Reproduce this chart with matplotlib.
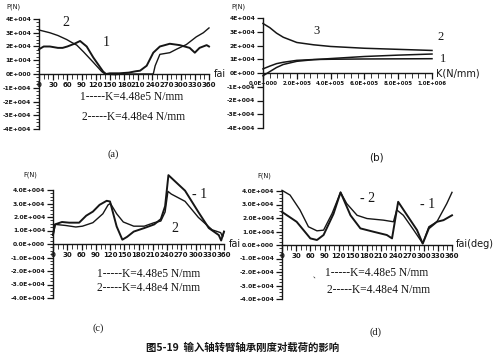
import math
import matplotlib
matplotlib.use('Agg')
import matplotlib.pyplot as plt
from matplotlib.ticker import MultipleLocator, FuncFormatter

# ---- data (forces in units of 1E+004 N) ----
# (a) P vs fai
a_fai1 = [0, 10, 23, 40, 50, 60, 75, 87, 101, 115, 136, 142, 150, 170, 190, 205, 214, 228, 242, 256, 277, 298, 319, 330, 340, 355, 360]
a_P1 = [1.8, 2.0, 2.0, 1.9, 1.9, 2.0, 2.2, 2.4, 2.0, 1.2, 0.17, 0.0, 0.05, 0.05, 0.1, 0.2, 0.24, 0.6, 1.55, 2.0, 2.2, 2.1, 1.9, 1.55, 1.9, 2.1, 2.0]
a_fai2 = [0, 23, 40, 59, 69, 80, 94, 115, 133, 140, 160, 180, 200, 230, 242, 246, 256, 277, 291, 312, 333, 348, 360]
a_P2 = [3.2, 3.0, 2.8, 2.5, 2.3, 2.1, 1.62, 0.85, 0.17, 0.0, -0.05, 0.0, 0.0, 0.0, 0.0, 0.6, 1.43, 1.55, 1.8, 2.14, 2.7, 3.0, 3.35]

# (b) P vs K
b_K = [0, 0.4e5, 0.8e5, 1.2e5, 2e5, 3e5, 4e5, 6e5, 8e5, 1e6]
b_P1 = [0.3, 0.5, 0.68, 0.78, 0.92, 0.98, 1.0, 1.02, 1.03, 1.04]
b_P2 = [-0.2, 0.1, 0.4, 0.62, 0.85, 0.97, 1.05, 1.2, 1.3, 1.38]
b_P3 = [3.6, 3.3, 2.9, 2.6, 2.22, 2.05, 1.93, 1.8, 1.72, 1.64]

# (c) F vs fai
c_fai1 = [0, 4, 19, 34, 55, 70, 84, 98, 113, 120, 134, 146, 156, 170, 192, 213, 227, 236, 243, 278, 306, 328, 349, 354, 360]
c_F1 = [0.66, 1.45, 1.63, 1.58, 1.58, 2.1, 2.4, 2.9, 3.2, 3.15, 1.3, 0.32, 0.53, 0.92, 1.18, 1.45, 1.84, 2.8, 5.1, 3.95, 2.37, 1.18, 0.66, 0.26, 0.92]
c_fai2 = [0, 5, 27, 48, 62, 84, 105, 116, 121, 134, 148, 170, 192, 213, 227, 236, 242, 249, 278, 306, 335, 353, 357, 360]
c_F2 = [0.66, 1.45, 1.37, 1.26, 1.32, 1.58, 2.24, 2.9, 3.0, 2.24, 1.63, 1.32, 1.32, 1.58, 1.7, 2.37, 3.9, 3.7, 3.16, 1.97, 1.05, 0.84, 0.53, 0.92]

# (d) F vs fai
d_fai1 = [0, 31, 60, 74, 88, 109, 124, 145, 166, 194, 222, 233, 246, 265, 286, 298, 311, 328, 342, 360]
d_F1 = [2.45, 1.72, 0.49, 0.37, 0.74, 2.3, 3.9, 2.2, 1.23, 0.98, 0.74, 0.49, 3.2, 2.2, 1.1, 0.1, 1.23, 1.72, 1.84, 2.2]
d_fai2 = [0, 17, 38, 56, 74, 88, 106, 124, 137, 159, 180, 215, 236, 243, 257, 279, 298, 311, 328, 349, 360]
d_F2 = [4.05, 3.7, 2.6, 1.35, 1.05, 1.1, 2.33, 3.9, 3.07, 2.2, 1.96, 1.84, 1.72, 2.6, 2.2, 1.1, 0.12, 1.35, 1.72, 3.07, 3.9]

legend1 = "1-----K=4.48e5 N/mm"
legend2 = "2-----K=4.48e4 N/mm"
title = "图5-19  输入轴转臂轴承刚度对载荷的影响"

W, H = 500, 356
fig = plt.figure(figsize=(5.0, 3.56), dpi=100)
fig.patch.set_facecolor('white')


def box(l, r, t, b):
    return [l / W, 1 - b / H, (r - l) / W, (b - t) / H]


def ftxt(x, y, s, **kw):
    fig.text(x / W, 1 - y / H, s, **kw)


def sci(v, dec):
    if abs(v) < 1e-9:
        m, e = 0.0, 0
    else:
        e = int(math.floor(math.log10(abs(v)) + 1e-9))
        m = v / 10 ** e
    sign = '+' if e >= 0 else '-'
    return f"{m:.{dec}f}E{sign}{abs(e):03d}"


ink = '#161616'


def setup(ax, ydec, xmax, xmajor, xminor, yminor=True, xdec=None):
    for s in ['top', 'right']:
        ax.spines[s].set_visible(False)
    ax.spines['bottom'].set_position(('data', 0))
    ax.spines['left'].set_linewidth(1.0)
    ax.spines['bottom'].set_linewidth(1.0)
    ax.spines['left'].set_color(ink)
    ax.spines['bottom'].set_color(ink)
    ax.set_ylim(-4, 4)
    ax.set_xlim(0, xmax)
    ax.yaxis.set_major_locator(MultipleLocator(1))
    ax.yaxis.set_major_formatter(FuncFormatter(lambda v, p: sci(v * 1e4, ydec)))
    if yminor:
        ax.yaxis.set_minor_locator(MultipleLocator(0.25))
    ax.xaxis.set_major_locator(MultipleLocator(xmajor))
    ax.xaxis.set_minor_locator(MultipleLocator(xminor))
    if xdec is None:
        ax.xaxis.set_major_formatter(FuncFormatter(lambda v, p: f"{v:.0f}"))
    else:
        ax.xaxis.set_major_formatter(FuncFormatter(lambda v, p: sci(v, xdec)))
    ax.tick_params(axis='both', which='major', direction='out', length=4, width=0.9, pad=1.5, colors=ink)
    ax.tick_params(axis='both', which='minor', direction='out', length=2.5, width=0.6, colors=ink)
    ax.tick_params(axis='x', which='minor', length=3.5)
    for lab in ax.get_yticklabels():
        lab.set_fontsize(4.3)
        lab.set_fontweight('bold')
    for lab in ax.get_xticklabels():
        lab.set_fontsize(5.0 if xdec is None else 3.9)
        lab.set_fontweight('bold')
    ax.patch.set_alpha(0)


serif = dict(family='Liberation Serif', color=ink)
sans = dict(family='DejaVu Sans', color=ink)

# ---- (a) ----
axa = fig.add_axes(box(39, 209, 19, 129))
setup(axa, 0, 360, 30, 10)
axa.plot(a_fai1, a_P1, color=ink, lw=1.4, clip_on=False)
axa.plot(a_fai2, a_P2, color=ink, lw=1.0, clip_on=False)
ftxt(13, 7, "P(N)", fontsize=4.8, va='center', ha='center', **sans)
ftxt(214, 74, "fai", fontsize=7, va='center', **sans)
ftxt(66, 22, "2", fontsize=10, va='center', ha='center', **serif)
ftxt(106, 43, "1", fontsize=10, va='center', ha='center', **serif)
ftxt(80, 97, legend1, fontsize=8.3, va='center', **serif)
ftxt(82, 117, legend2, fontsize=8.3, va='center', **serif)
ftxt(113, 154, "(a)", fontsize=7.5, va='center', ha='center', **serif)

# ---- (b) ----
axb = fig.add_axes(box(263, 432, 18, 128))
setup(axb, 0, 1e6, 2e5, 4e4, yminor=False, xdec=1)
axb.plot(b_K, b_P1, color=ink, lw=1.1, clip_on=False)
axb.plot(b_K, b_P2, color=ink, lw=1.1, clip_on=False)
axb.plot(b_K, b_P3, color=ink, lw=1.1, clip_on=False)
ftxt(238, 7, "P(N)", fontsize=4.8, va='center', ha='center', **sans)
ftxt(436, 73, "K(N/mm)", fontsize=7, va='center', **sans)
ftxt(317, 31, "3", fontsize=9, va='center', ha='center', **serif)
ftxt(441, 37, "2", fontsize=9, va='center', ha='center', **serif)
ftxt(443, 59, "1", fontsize=9, va='center', ha='center', **serif)
ftxt(376, 157, "(b)", fontsize=7.5, va='center', ha='center', **sans)

# ---- (c) ----
axc = fig.add_axes(box(53, 224, 190, 298))
setup(axc, 1, 360, 30, 10)
axc.plot(c_fai1, c_F1, color=ink, lw=1.4, clip_on=False)
axc.plot(c_fai2, c_F2, color=ink, lw=1.0, clip_on=False)
ftxt(30, 175, "F(N)", fontsize=4.8, va='center', ha='center', **sans)
ftxt(229, 244, "fai", fontsize=7, va='center', **sans)
ftxt(192, 194, "- 1", fontsize=10, va='center', **serif)
ftxt(175, 229, "2", fontsize=10, va='center', ha='center', **serif)
ftxt(97, 274, legend1, fontsize=8.3, va='center', **serif)
ftxt(97, 288, legend2, fontsize=8.3, va='center', **serif)
ftxt(98, 328, "(c)", fontsize=7.5, va='center', ha='center', **serif)

# ---- (d) ----
axd = fig.add_axes(box(282, 452, 191, 299))
setup(axd, 1, 360, 30, 10)
axd.plot(d_fai1, d_F1, color=ink, lw=1.4, clip_on=False)
axd.plot(d_fai2, d_F2, color=ink, lw=1.0, clip_on=False)
ftxt(264, 176, "F(N)", fontsize=4.8, va='center', ha='center', **sans)
ftxt(456, 244, "fai(deg)", fontsize=7, va='center', **sans)
ftxt(360, 199, "- 2", fontsize=10, va='center', **serif)
ftxt(420, 205, "- 1", fontsize=10, va='center', **serif)
ftxt(316, 276, "、", fontsize=5, va='center', ha='center', family='Noto Sans CJK SC', color=ink)
ftxt(325, 273, legend1, fontsize=8.3, va='center', **serif)
ftxt(327, 290, legend2, fontsize=8.3, va='center', **serif)
ftxt(376, 332, "(d)", fontsize=7.5, va='center', ha='center', **serif)

# ---- caption ----
ftxt(243, 348, title, fontsize=7.5, va='center', ha='center', fontweight='bold',
     family=['Noto Sans CJK SC', 'DejaVu Sans'], color=ink)

fig.savefig('out.png', dpi=100, facecolor='white')
